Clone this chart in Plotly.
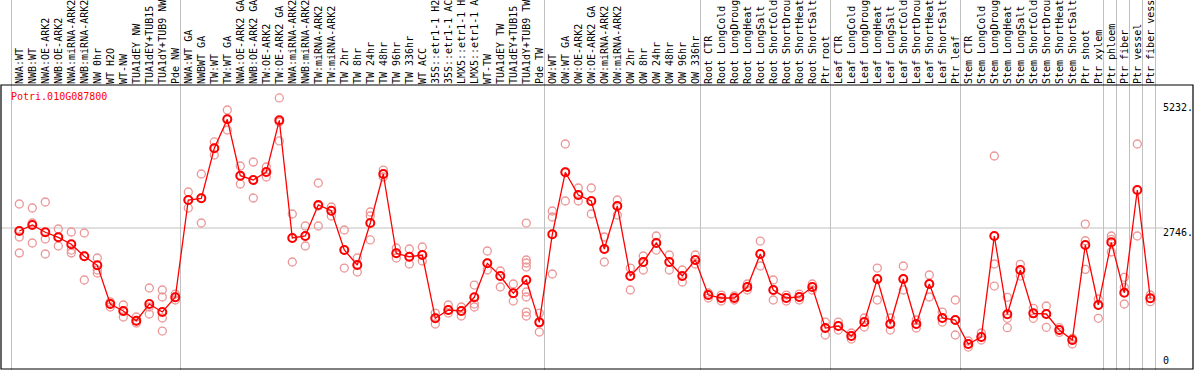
import plotly.graph_objects as go

gene = "Potri.010G087800"

categories = [
    "NWA:WT", "NWB:WT", "NWA:OE-ARK2", "NWB:OE-ARK2", "NWA:miRNA-ARK2", "NWB:miRNA-ARK2",
    "NW 0hr", "WT H2O", "WT-NW", "TUA1dEY NW", "TUA1dEY+TUB15", "TUA1dY+TUB9 NW", "Pde NW",
    "NWA:WT GA", "NWBWT GA", "TW:WT", "TW:WT GA", "NWA:OE-ARK2 GA", "NWB:OE-ARK2 GA",
    "TW:OE-ARK2", "TW:OE-ARK2 GA", "NWA:miRNA-ARK2", "NWB:miRNA-ARK2", "TW:miRNA-ARK2",
    "TW:miRNA-ARK2", "TW 2hr", "TW 8hr", "TW 24hr", "TW 48hr", "TW 96hr", "TW 336hr",
    "WT ACC", "35S::etr1-1 H2", "35S::etr1-1 AC", "LMX5::etr1-1 H", "LMX5::etr1-1 A",
    "WT-TW", "TUA1dEY TW", "TUA1dEY+TUB15", "TUA1dY+TUB9 TW", "Pde TW",
    "OW:WT", "OW:WT GA", "OW:OE-ARK2", "OW:OE-ARK2 GA", "OW:miRNA-ARK2", "OW:miRNA-ARK2",
    "OW 2hr", "OW 8hr", "OW 24hr", "OW 48hr", "OW 96hr", "OW 336hr",
    "Root CTR", "Root LongCold", "Root LongDroug", "Root LongHeat", "Root LongSalt",
    "Root ShortCold", "Root ShortDrou", "Root ShortHeat", "Root ShortSalt", "Ptr root",
    "Leaf CTR", "Leaf LongCold", "Leaf LongDroug", "Leaf LongHeat", "Leaf LongSalt",
    "Leaf ShortCold", "Leaf ShortDrou", "Leaf ShortHeat", "Leaf ShortSalt", "Ptr leaf",
    "Stem CTR", "Stem LongCold", "Stem LongDroug", "Stem LongHeat", "Stem LongSalt",
    "Stem ShortCold", "Stem ShortDrou", "Stem ShortHeat", "Stem ShortSalt", "Ptr shoot",
    "Ptr xylem", "Ptr phloem", "Ptr fiber", "Ptr vessel", "Ptr fiber vess",
]

means = [
    2686, 2806, 2661, 2561, 2422, 2183, 2004, 1234, 1095, 902, 1234, 1075, 1368,
    3303, 3337, 4331, 4908, 3786, 3701, 3860, 4888, 2547, 2587, 3204, 3090,
    2308, 2010, 2846, 3820, 2243, 2175, 2209, 950, 1115, 1095, 1368, 2044, 1791, 1447, 1712, 870,
    2621, 3854, 3402, 3283, 2328, 3184, 1791, 2070, 2448, 2070, 1791, 2110,
    1413, 1354, 1354, 1573, 2229, 1513, 1354, 1374, 1573, 757,
    797, 598, 876, 1732, 837, 1732, 837, 1632, 956, 916,
    439, 578, 2587, 1030, 1911, 1049, 1036, 717, 518, 2408, 1215,
    2462, 1459, 3502, 1348,
]

replicates = [
    [3223, 2567, 2249], [3144, 2846, 2448], [3263, 2527, 2229], [2726, 2567, 2388],
    [2667, 2308, 2249], [2647, 2189, 1712], [2149, 1911, 1851], [1274, 1234, 1175],
    [1215, 1095, 976], [976, 896, 857], [1553, 1175, 1036], [1513, 1374, 956, 697],
    [1433, 1374, 1314],
    [3462, 3303, 3144], [3820, 3343, 2846], [4457, 4337, 4198], [5093, 4914, 4695],
    [3979, 3780, 3621], [4059, 3701, 3343], [3959, 3860, 3760], [5332, 4854, 4477],
    [3025, 2547, 2070], [2786, 2587, 2388], [3641, 3184, 2786], [3164, 3084, 2985],
    [2706, 2308, 1950], [2149, 2010, 1871], [3064, 2985, 2508], [3899, 3820, 3760],
    [2348, 2249, 2149], [2328, 2169, 2030], [2368, 2209, 2090], [1055, 956, 837],
    [1215, 1115, 1055], [1175, 1095, 996], [1612, 1234, 1175], [2289, 2050, 1911],
    [1891, 1791, 1573], [1632, 1453, 1294],
    [2845, 2110, 2050, 1970, 1473, 1374, 1075, 996], [1055, 876, 678],
    [3084, 2965, 1831], [4417, 3860, 3283], [3542, 3402, 3283], [3542, 3283, 3025],
    [2567, 2328, 2070], [3303, 3184, 3005], [1950, 1791, 1513], [2189, 2070, 1911],
    [2587, 2448, 2308], [2209, 2070, 1911], [1911, 1791, 1672], [2209, 2110, 2030],
    [1453, 1413, 1354], [1413, 1354, 1294], [1394, 1354, 1314], [1632, 1573, 1513],
    [2487, 2229, 1990], [1712, 1513, 1314], [1413, 1354, 1294], [1433, 1374, 1314],
    [1632, 1573, 1513], [876, 757, 618],
    [876, 797, 717], [658, 598, 538], [956, 876, 777], [1950, 1732, 1314],
    [956, 837, 717], [1990, 1732, 1513], [916, 837, 757], [1811, 1632, 1374],
    [1075, 956, 876], [1314, 916, 618],
    [499, 439, 379], [658, 578, 519], [4178, 2030, 1592], [1368, 950, 763],
    [2024, 1911, 1791], [1149, 1049, 950], [1195, 1036, 771], [763, 717, 671],
    [552, 518, 439], [2825, 2493, 1924], [1334, 1215, 950],
    [2587, 2521, 2269], [1765, 1567, 1235], [4417, 2587], [1414, 1348, 1281],
]

group_sizes = [13, 28, 12, 10, 10, 11, 1, 1, 1, 1]
y_tick_values = [5232, 2746, 0]
y_tick_labels = ["5232.", "2746.", "0"]
grid_value = 2746

W, H = 1194, 370
ML, MR, MT, MB = 1, 1, 85, 1
X_RANGE = [-1.408, 90.285]
Y_RANGE = [-58, 5590]
MONO = "DejaVu Sans Mono"
GRAY = "#C0C0C0"
PINK = "rgb(236,150,150)"

n = len(categories)
idx = list(range(n))
rep_x, rep_y = [], []
for i, reps in enumerate(replicates):
    for v in reps:
        rep_x.append(i)
        rep_y.append(v)

fig = go.Figure()
fig.add_trace(go.Scatter(
    x=rep_x, y=rep_y, mode="markers",
    marker=dict(symbol="circle-open", size=8, color=PINK, line=dict(width=1.3, color=PINK)),
    hoverinfo="skip", showlegend=False, cliponaxis=False,
))
fig.add_trace(go.Scatter(
    x=idx, y=means, mode="lines+markers",
    line=dict(color="#FF0000", width=1.3),
    marker=dict(symbol="circle-open", size=8, color="#FF0000", line=dict(width=2, color="#FF0000")),
    showlegend=False, cliponaxis=False,
))

shapes = []
plot_h = H - MT - MB
top_extent = 1 + (MT + 5) / plot_h
bounds = [-1]
acc = -1
for g in group_sizes:
    acc += g
    bounds.append(acc)
for b in bounds:
    shapes.append(dict(type="line", xref="x", yref="paper", x0=b + 0.4, x1=b + 0.4,
                       y0=-0.05, y1=top_extent, line=dict(color=GRAY, width=1), layer="below"))
shapes.append(dict(type="line", xref="x", yref="y", x0=X_RANGE[0], x1=n, y0=grid_value, y1=grid_value,
                   line=dict(color=GRAY, width=1), layer="below"))
shapes.append(dict(type="rect", xref="paper", yref="paper", x0=0, x1=1, y0=0, y1=1,
                   line=dict(color="black", width=1.2), layer="above"))

annotations = [dict(
    text=gene, xref="paper", yref="paper", x=(9 - ML) / (W - ML - MR), y=1 - (96.5 - MT) / plot_h,
    xanchor="left", yanchor="middle", showarrow=False,
    font=dict(family=MONO, size=10, color="#FF0000"),
)]
for v, t in zip(y_tick_values, y_tick_labels):
    annotations.append(dict(
        text=t, xref="x", yref="y", x=n, y=v, xanchor="left",
        yanchor="bottom" if v == 0 else "top", showarrow=False,
        font=dict(family=MONO, size=10, color="black"), xshift=-2,
        yshift=(-2 if v == 0 else 3),
    ))

fig.update_layout(
    template="none",
    width=W, height=H,
    margin=dict(l=ML, r=MR, t=MT, b=MB, pad=0, autoexpand=False),
    paper_bgcolor="white", plot_bgcolor="white",
    shapes=shapes, annotations=annotations,
    xaxis=dict(
        range=X_RANGE, side="top", tickmode="array", tickvals=idx, ticktext=categories,
        tickangle=-90, tickfont=dict(family=MONO, size=10, color="black"),
        showgrid=False, zeroline=False, ticks="", showline=False, automargin=False,
    ),
    yaxis=dict(
        range=Y_RANGE, showticklabels=False, showgrid=False, zeroline=False, ticks="",
        showline=False, automargin=False,
    ),
)

fig.write_html(
    "out.html",
    config={"displayModeBar": False},
    post_script="document.body.style.margin='0px';document.body.style.overflow='hidden';",
)
